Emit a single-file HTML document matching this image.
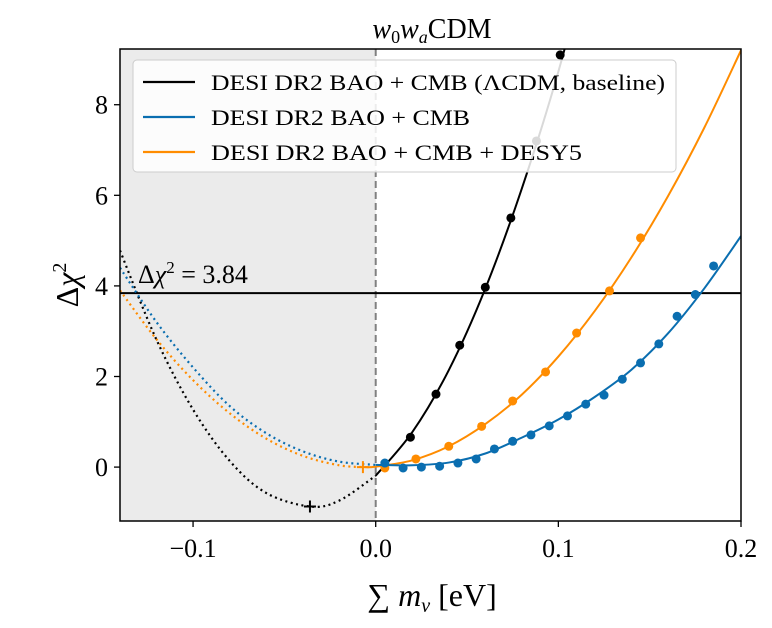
<!DOCTYPE html>
<html><head><meta charset="utf-8"><style>
body{margin:0;background:#fff}
svg text{font-family:"Liberation Serif","DejaVu Serif",serif}
</style></head><body>
<svg id="chart" width="772" height="623" viewBox="0 0 772 623">
<defs><clipPath id="clip"><rect x="120" y="49" width="621" height="472"/></clipPath></defs>
<g id="plot" clip-path="url(#clip)"></g>
<g id="axes"></g>
</svg>
<script>
const xTicks=[-0.1,0.0,0.1,0.2];
const xTickLabels=["\u22120.1","0.0","0.1","0.2"];
const yTicks=[0,2,4,6,8];
const yTickLabels=["0","2","4","6","8"];
const threshold=3.84;
const blackDotX=[-0.14,-0.12,-0.10,-0.08,-0.06,-0.036,-0.02,0.0];
const blackDotY=[4.78,2.81,1.27,0.14,-0.57,-0.87,-0.74,-0.19];
const blackLineX=[0.0,0.02,0.04,0.06,0.08,0.1,0.12];
const blackLineY=[-0.19,0.77,2.14,3.94,6.15,8.73,11.8];
const blackPtsX=[0.019,0.033,0.046,0.06,0.074,0.088,0.101];
const blackPtsY=[0.66,1.61,2.69,3.97,5.5,7.2,9.1];
const blueDotX=[-0.14,-0.12,-0.10,-0.08,-0.06,-0.04,-0.02,0.0];
const blueDotY=[4.4,3.2,2.2,1.35,0.75,0.35,0.12,0.05];
const blueLineX=[0.0,0.02,0.04,0.06,0.08,0.1,0.12,0.14,0.16,0.18,0.2];
const blueLineY=[0.05,0.04,0.1,0.3,0.65,1.05,1.55,2.15,2.95,3.95,5.1];
const bluePtsX=[0.005,0.015,0.025,0.035,0.045,0.055,0.065,0.075,0.085,0.095,0.105,0.115,0.125,0.135,0.145,0.155,0.165,0.175,0.185];
const bluePtsY=[0.09,-0.02,0,0.02,0.09,0.18,0.4,0.57,0.71,0.91,1.13,1.39,1.59,1.94,2.3,2.72,3.33,3.81,4.44];
const orangeDotX=[-0.14,-0.12,-0.10,-0.08,-0.06,-0.04,-0.02,-0.006];
const orangeDotY=[3.9,2.82,1.92,1.19,0.63,0.25,0.04,0.0];
const orangeLineX=[-0.006,0.0,0.02,0.04,0.06,0.08,0.1,0.12,0.14,0.16,0.18,0.2];
const orangeLineY=[0.0,0.01,0.15,0.46,0.95,1.6,2.44,3.45,4.63,5.98,7.5,9.2];
const orangePtsX=[0.005,0.022,0.04,0.058,0.075,0.093,0.11,0.128,0.145];
const orangePtsY=[-0.02,0.18,0.46,0.9,1.46,2.1,2.96,3.89,5.06];
const minX=[-0.036,-0.007];
const minY=[-0.87,0.0];

const X0=120,X1=741,Y0=49,Y1=521,xmin=-0.14,xmax=0.2,ymin=-1.19,ymax=9.23;
const sx=v=>X0+(v-xmin)/(xmax-xmin)*(X1-X0);
const sy=v=>Y1-(v-ymin)/(ymax-ymin)*(Y1-Y0);
const NS="http://www.w3.org/2000/svg";
const plot=document.getElementById('plot'),axes=document.getElementById('axes');
function mk(tag,at,parent){const e=document.createElementNS(NS,tag);for(const k in at)e.setAttribute(k,at[k]);parent.appendChild(e);return e;}
function smooth(xs,ys){const p=xs.map((x,i)=>[sx(x),sy(ys[i])]);let d=`M${p[0][0]},${p[0][1]}`;
for(let i=0;i<p.length-1;i++){const a=p[Math.max(0,i-1)],b=p[i],c=p[i+1],e=p[Math.min(p.length-1,i+2)];
d+=` C${b[0]+(c[0]-a[0])/6},${b[1]+(c[1]-a[1])/6} ${c[0]-(e[0]-b[0])/6},${c[1]-(e[1]-b[1])/6} ${c[0]},${c[1]}`;}return d;}

let r=mk('rect',{x:sx(xmin),y:Y0,width:sx(0)-sx(xmin),height:Y1-Y0,fill:'#ebebeb'},plot);


let vl=mk('line',{x1:sx(0),x2:sx(0),y1:Y0,y2:Y1,stroke:'#808080','stroke-width':2,'stroke-dasharray':'7,4'},plot);


let hl=mk('line',{x1:X0,x2:X1,y1:sy(threshold),y2:sy(threshold),stroke:'#000','stroke-width':2},plot);



const series=[
 ['black','#000',blackDotX,blackDotY,blackLineX,blackLineY,blackPtsX,blackPtsY],
 ['orange','#ff8c00',orangeDotX,orangeDotY,orangeLineX,orangeLineY,orangePtsX,orangePtsY],
 ['blue','#0a6eb0',blueDotX,blueDotY,blueLineX,blueLineY,bluePtsX,bluePtsY]];
series.forEach(s=>{
 let d=mk('path',{d:smooth(s[2],s[3]),fill:'none',stroke:s[1],'stroke-width':2.2,'stroke-dasharray':'2,3.5'},plot);
 
 
 let l=mk('path',{d:smooth(s[4],s[5]),fill:'none',stroke:s[1],'stroke-width':2},plot);
 
 
 s[6].forEach((x,i)=>{let c=mk('circle',{cx:sx(x),cy:sy(s[7][i]),r:4.5,fill:s[1]},plot);
  
  });
});
['#000','#ff8c00'].forEach((col,i)=>{const cx=sx(minX[i]),cy=sy(minY[i]);
 let g=mk('path',{d:`M${cx-6},${cy}H${cx+6}M${cx},${cy-6}V${cy+6}`,stroke:col,'stroke-width':2},plot);
 
 });

let fr=mk('rect',{x:X0,y:Y0,width:X1-X0,height:Y1-Y0,fill:'none',stroke:'#000','stroke-width':1.5},axes);


xTicks.forEach((v,i)=>{mk('line',{x1:sx(v),x2:sx(v),y1:Y1,y2:Y1+6,stroke:'#000','stroke-width':1.3},axes);
 let t=mk('text',{x:sx(v),y:Y1+36,'font-size':26,'text-anchor':'middle'},axes);t.textContent=xTickLabels[i];
 
 });
yTicks.forEach((v,i)=>{mk('line',{x1:X0-6,x2:X0,y1:sy(v),y2:sy(v),stroke:'#000','stroke-width':1.3},axes);
 let t=mk('text',{x:X0-12,y:sy(v)+9,'font-size':26,'text-anchor':'end'},axes);t.textContent=yTickLabels[i];
 
 });
</script>
<svg style="position:absolute;left:0;top:0" width="772" height="623">
<text x="432" y="38" font-size="28" text-anchor="middle" font-family="Liberation Serif,serif"><tspan font-style="italic">w</tspan><tspan font-size="18" dy="5">0</tspan><tspan font-style="italic" dy="-5">w</tspan><tspan font-size="18" font-style="italic" dy="5">a</tspan><tspan dy="-5">CDM</tspan></text>
<text x="138" y="283" font-size="26" font-family="Liberation Serif,serif">Δ<tspan font-style="italic">χ</tspan><tspan font-size="17" dy="-10">2</tspan><tspan dy="10"> = 3.84</tspan></text>
<text x="432" y="606" font-size="32" text-anchor="middle" font-family="Liberation Serif,serif">∑ <tspan font-style="italic">m</tspan><tspan font-size="20" font-style="italic" dy="6">ν</tspan><tspan dy="-6"> [eV]</tspan></text>
<text transform="translate(78,285) rotate(-90)" font-size="32" text-anchor="middle" font-family="Liberation Serif,serif">Δ<tspan font-style="italic">χ</tspan><tspan font-size="20" dy="-12">2</tspan></text>
<g>
<rect x="133" y="60" width="543" height="112" rx="4" fill="#fff" fill-opacity="0.85" stroke="#ccc"/>
<line x1="143" x2="195" y1="82" y2="82" stroke="#000" stroke-width="2.2"/>
<text x="211" y="90" font-size="22" textLength="454" lengthAdjust="spacingAndGlyphs" font-family="Liberation Serif,serif">DESI DR2 BAO + CMB (ΛCDM, baseline)</text>
<line x1="143" x2="195" y1="117" y2="117" stroke="#0a6eb0" stroke-width="2.2"/>
<text x="211" y="125" font-size="22" textLength="259" lengthAdjust="spacingAndGlyphs" font-family="Liberation Serif,serif">DESI DR2 BAO + CMB</text>
<line x1="143" x2="195" y1="152" y2="152" stroke="#ff8c00" stroke-width="2.2"/>
<text x="211" y="160" font-size="22" textLength="371" lengthAdjust="spacingAndGlyphs" font-family="Liberation Serif,serif">DESI DR2 BAO + CMB + DESY5</text>
</g>
</svg>
</body></html>
